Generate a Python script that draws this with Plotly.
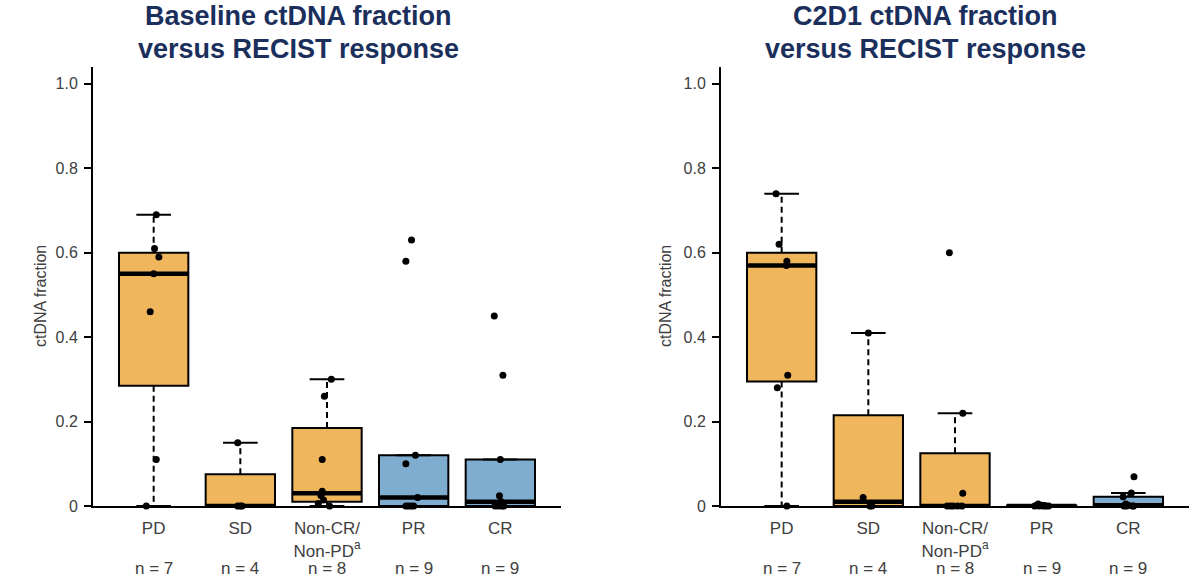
import numpy as np
import plotly.graph_objects as go

# ---------------- data ----------------
categories = ["PD", "SD", "Non-CR/<br>Non-PD<sup>a</sup>", "PR", "CR"]
n_labels = ["n = 7", "n = 4", "n = 8", "n = 9", "n = 9"]
panel_titles = [
    ["Baseline ctDNA fraction", "versus RECIST response"],
    ["C2D1 ctDNA fraction", "versus RECIST response"],
]
y_ticks = [0, 0.2, 0.4, 0.6, 0.8, 1.0]
y_ticktext = ["0", "0.2", "0.4", "0.6", "0.8", "1.0"]

# Baseline ctDNA fraction per response group
base_pd = [0.69, 0.61, 0.59, 0.55, 0.46, 0.11, 0.0]
base_sd = [0.15, 0.0, 0.0, 0.0]
base_noncr = [0.30, 0.26, 0.11, 0.035, 0.025, 0.014, 0.006, 0.0]
base_pr = [0.63, 0.58, 0.12, 0.10, 0.02, 0.0, 0.0, 0.0, 0.0]
base_cr = [0.45, 0.31, 0.11, 0.024, 0.01, 0.0, 0.0, 0.0, 0.0]

# C2D1 ctDNA fraction per response group
c2d1_pd = [0.74, 0.62, 0.58, 0.57, 0.31, 0.28, 0.0]
c2d1_sd = [0.41, 0.02, 0.0, 0.0]
c2d1_noncr = [0.60, 0.22, 0.03, 0.0, 0.0, 0.0, 0.0, 0.0]
c2d1_pr = [0.005, 0.002, 0.001, 0.001, 0.0, 0.0, 0.0, 0.0, 0.0]
c2d1_cr = [0.069, 0.031, 0.022, 0.005, 0.002, 0.0, 0.0, 0.0, 0.0]

# horizontal jitter of the dots (category units)
jit_base = [
    [0.03, 0.01, 0.06, 0.0, -0.04, 0.03, -0.085],
    [-0.03, -0.03, 0.0, 0.02],
    [0.05, -0.03, -0.055, -0.055, -0.07, -0.04, -0.10, 0.03],
    [-0.025, -0.09, 0.02, -0.09, 0.045, -0.09, -0.06, -0.03, 0.0],
    [-0.07, 0.03, 0.0, -0.01, 0.01, -0.06, -0.02, 0.02, 0.04],
]
jit_c2d1 = [
    [-0.065, -0.03, 0.06, 0.055, 0.07, -0.05, 0.06],
    [0.0, -0.06, 0.02, 0.04],
    [-0.065, 0.09, 0.09, -0.09, -0.05, -0.02, 0.03, 0.08],
    [-0.04, 0.0, 0.03, -0.06, -0.03, 0.02, 0.05, 0.08, -0.08],
    [0.065, 0.035, -0.06, -0.03, 0.0, -0.05, 0.05, 0.06, -0.02],
]

panels = [
    [base_pd, base_sd, base_noncr, base_pr, base_cr],
    [c2d1_pd, c2d1_sd, c2d1_noncr, c2d1_pr, c2d1_cr],
]
jitters = [jit_base, jit_c2d1]

# ---------------- styles ----------------
ORANGE = "#F0B65C"
BLUE = "#7FADD0"
box_colors = [ORANGE, ORANGE, ORANGE, BLUE, BLUE]
NAVY = "#1B2F5C"
GREY = "#404040"
FONT = "Liberation Sans, Arial, sans-serif"
W, H = 1200, 580


def fivenum(v):
    x = np.sort(np.asarray(v, float))
    n = len(x)
    n4 = np.floor((n + 3) / 2) / 2
    d = np.array([1, n4, (n + 1) / 2, n + 1 - n4, n]) - 1
    return 0.5 * (x[np.floor(d).astype(int)] + x[np.ceil(d).astype(int)])


fig = go.Figure()

x_domains = [[93 / W, 561 / W], [721 / W, 1189 / W]]
y_domain = [1 - 506 / H, 1 - 67 / H]
title_cx = [298, 925]
ylab_x = [40, 665]

for p, groups in enumerate(panels):
    xa = "x" if p == 0 else "x2"
    ya = "y" if p == 0 else "y2"
    for i, vals in enumerate(groups):
        arr = np.asarray(vals, float)
        lo, q1, med, q3, hi = fivenum(arr)
        iqr = q3 - q1
        up_w = arr[arr <= q3 + 1.5 * iqr].max()
        lo_w = arr[arr >= q1 - 1.5 * iqr].min()
        # box
        fig.add_trace(go.Box(
            x=[i], q1=[q1], median=[med], q3=[q3],
            lowerfence=[q1], upperfence=[q3],
            width=0.8, fillcolor=box_colors[i],
            line=dict(color="black", width=2),
            boxpoints=False, whiskerwidth=0,
            xaxis=xa, yaxis=ya, showlegend=False, hoverinfo="skip",
        ))
        # dashed whiskers
        for a, b in ((q3, up_w), (q1, lo_w)):
            if abs(b - a) > 1e-9:
                fig.add_trace(go.Scatter(
                    x=[i, i], y=[a, b], mode="lines",
                    line=dict(color="black", width=2, dash="6px,4px"),
                    xaxis=xa, yaxis=ya, showlegend=False, hoverinfo="skip",
                ))
        # caps
        for b in (up_w, lo_w):
            fig.add_trace(go.Scatter(
                x=[i - 0.2, i + 0.2], y=[b, b], mode="lines",
                line=dict(color="black", width=2),
                xaxis=xa, yaxis=ya, showlegend=False, hoverinfo="skip",
            ))
        # thick median
        fig.add_trace(go.Scatter(
            x=[i - 0.4, i + 0.4], y=[med, med], mode="lines",
            line=dict(color="black", width=4.5),
            xaxis=xa, yaxis=ya, showlegend=False, hoverinfo="skip",
        ))
    # points
    for i, vals in enumerate(groups):
        fig.add_trace(go.Scatter(
            x=[i + j for j in jitters[p][i]], y=vals, mode="markers",
            marker=dict(color="black", size=7),
            cliponaxis=False,
            xaxis=xa, yaxis=ya, showlegend=False, hoverinfo="skip",
        ))

axis_common_x = dict(
    range=[-0.7, 4.7], showline=True, linecolor="black", linewidth=2,
    tickmode="array", tickvals=list(range(5)), ticktext=categories,
    ticks="", showgrid=False, zeroline=False, automargin=False,
    ticklabelstandoff=6,
    tickfont=dict(family=FONT, size=17, color=GREY),
)
axis_common_y = dict(
    range=[0, 1.04], domain=y_domain, showline=True, linecolor="black", linewidth=2,
    tickmode="array", tickvals=y_ticks, ticktext=y_ticktext,
    ticks="outside", ticklen=7, tickwidth=2, tickcolor="black",
    showgrid=False, zeroline=False, automargin=False,
    ticklabelstandoff=3,
    tickfont=dict(family=FONT, size=16, color=GREY),
)

fig.update_layout(
    width=W, height=H,
    margin=dict(l=0, r=0, t=0, b=0),
    paper_bgcolor="white", plot_bgcolor="white",
    template="none",
    boxmode="overlay",
    xaxis=dict(domain=x_domains[0], anchor="y", **axis_common_x),
    xaxis2=dict(domain=x_domains[1], anchor="y2", **axis_common_x),
    yaxis=dict(anchor="x", **axis_common_y),
    yaxis2=dict(anchor="x2", **axis_common_y),
)

annotations = []
for p in range(2):
    for k, line in enumerate(panel_titles[p]):
        annotations.append(dict(
            text=f"<b>{line}</b>", x=title_cx[p] / W, y=1 - (16 + 33 * k) / H,
            xref="paper", yref="paper", xanchor="center", yanchor="middle",
            showarrow=False, font=dict(family=FONT, size=27, color=NAVY),
        ))
    annotations.append(dict(
        text="ctDNA fraction", x=ylab_x[p] / W, y=1 - 296 / H,
        xref="paper", yref="paper", xanchor="center", yanchor="middle",
        textangle=-90, showarrow=False,
        font=dict(family=FONT, size=16, color=GREY),
    ))
    xr = "x" if p == 0 else "x2"
    for i, nl in enumerate(n_labels):
        annotations.append(dict(
            text=nl, x=i, xref=xr, y=1 - 568 / H, yref="paper",
            xanchor="center", yanchor="middle", showarrow=False,
            font=dict(family=FONT, size=17, color=GREY),
        ))
fig.update_layout(annotations=annotations)

fig.write_html("out.html")
